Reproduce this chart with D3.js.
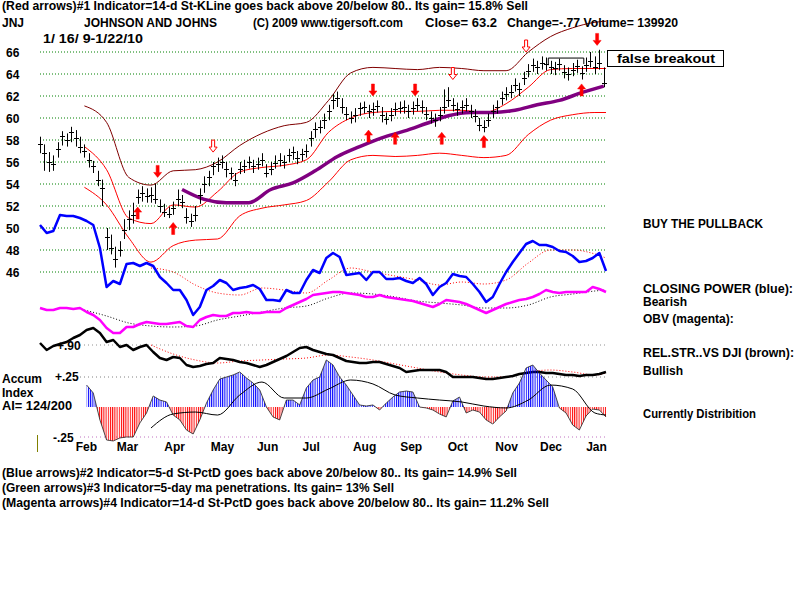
<!DOCTYPE html>
<html>
<head>
<meta charset="utf-8">
<script src="https://cdn.jsdelivr.net/npm/d3@7/dist/d3.min.js"></script>
<style>
  body { margin: 0; background: #fff; }
  svg { display: block; }
  text { font-family: "Liberation Sans", Arial, sans-serif; font-weight: bold; font-size: 12px; fill: #000; }
</style>
</head>
<body>
<svg id="chart" width="800" height="600"></svg>
<script>
// ---- data (1/16/09 - 1/22/10) ----
const BAR_STEP = 2;   // one price bar every 2 trading days
const IND_STEP = 3;   // indicator samples every 3 trading days

const priceTicks = [46, 48, 50, 52, 54, 56, 58, 60, 62, 64, 66];
const monthLabels = ["Feb", "Mar", "Apr", "May", "Jun", "Jul", "Aug", "Sep", "Oct", "Nov", "Dec", "Jan"];
const monthDays = [20.7, 39.2, 60.4, 82, 102.3, 122, 146, 167, 188, 210, 230, 250.5];

const closes = [
  57.6,56.8,56.0,55.8,57.2,58.4,58.0,58.7,58.2,57.4,
  57.0,56.2,55.6,54.4,53.6,49.2,48.2,47.2,48.0,49.8,
  50.8,51.2,52.8,53.2,52.9,53.0,52.6,52.0,51.5,51.3,
  51.8,52.6,52.4,51.0,50.6,51.2,53.0,54.0,54.6,55.6,
  55.8,56.0,55.4,55.0,54.4,55.4,55.6,56.0,55.6,55.8,
  56.2,55.0,55.4,55.9,56.2,56.0,56.6,56.9,56.4,56.7,
  57.0,58.2,59.0,59.2,59.8,60.6,61.6,61.8,61.0,60.4,
  60.0,60.3,60.9,61.0,60.6,60.8,61.1,60.3,59.9,60.3,
  60.8,60.9,61.0,60.6,60.9,61.2,61.0,60.4,60.0,59.8,
  60.3,61.0,61.6,61.2,60.8,61.0,61.2,60.6,60.2,59.4,
  59.2,59.8,60.6,61.0,61.8,62.2,62.4,63.0,62.6,63.6,
  64.3,64.8,64.6,65.0,64.9,64.6,64.5,64.9,64.2,64.0,
  64.4,64.7,64.1,64.8,65.2,64.6,65.0,63.2
];
const highs = [
  58.3,57.6,56.9,56.6,57.8,58.8,58.6,59.2,58.9,58.3,
  57.6,56.8,56.1,55.2,54.4,50.0,49.4,48.3,48.8,50.8,
  51.6,52.3,53.5,53.8,53.6,53.7,54.0,52.6,52.2,51.9,
  52.4,53.5,53.0,51.8,51.3,52.0,53.6,54.7,55.2,56.0,
  56.4,56.6,56.0,55.5,55.0,56.0,56.2,56.5,56.2,56.4,
  56.8,55.8,56.0,56.6,56.8,56.6,57.2,57.4,57.0,57.2,
  57.6,58.8,59.6,59.8,60.4,61.2,62.2,62.4,61.8,61.0,
  60.6,60.9,61.4,61.5,61.2,61.4,61.6,61.0,60.5,60.9,
  61.4,61.5,61.6,61.2,61.5,61.8,61.6,61.0,60.6,60.4,
  61.0,62.6,62.8,61.8,61.4,61.6,61.8,61.2,60.8,60.0,
  59.8,60.4,61.2,61.6,62.4,62.8,63.0,63.6,63.2,64.2,
  64.9,65.4,65.2,65.6,65.5,65.2,65.1,65.4,64.8,64.6,
  65.0,65.3,64.7,65.5,66.0,65.6,66.2,64.6
];
const lows = [
  56.8,55.2,55.1,55.2,56.4,57.5,57.4,57.8,57.4,56.8,
  56.4,55.5,55.0,53.8,52.0,48.0,47.6,46.4,47.4,49.0,
  49.8,50.4,52.2,52.4,52.3,52.3,52.2,51.4,51.0,50.9,
  51.2,52.0,51.8,50.4,50.1,50.6,52.2,53.2,53.8,54.8,
  55.1,55.4,54.6,54.4,53.8,54.9,55.0,55.4,55.0,55.3,
  55.6,54.6,54.8,55.4,55.6,55.4,56.0,56.2,55.8,56.1,
  56.4,57.4,58.2,58.6,59.0,59.8,60.8,61.0,60.4,59.8,
  59.5,59.6,60.2,60.4,60.0,60.2,60.5,59.6,59.4,59.7,
  60.2,60.4,60.4,60.0,60.3,60.6,60.4,59.8,59.5,59.2,
  59.7,60.4,61.0,60.6,60.2,60.4,60.6,60.0,59.6,58.8,
  58.7,59.2,60.0,60.4,61.2,61.6,61.8,62.4,62.0,63.0,
  63.7,64.2,64.0,64.4,64.3,64.0,63.9,64.3,63.6,63.4,
  63.8,64.1,63.5,64.2,64.6,64.0,64.4,62.8
];

// smooth series sampled on these trading days
const bandDays = [20,30,40,50,60,70,80,90,100,110,120,130,140,150,160,170,180,190,200,210,220,230,240,250,255];
const upperBand = [61.1,59.6,54.6,53.9,55.2,55.3,56.0,57.5,58.6,59.3,59.6,61.6,64.1,64.6,64.5,64.4,64.6,64.5,64.3,64.3,66.0,67.4,68.2,68.7,68.8];
const midBand   = [57.4,55.3,50.9,50.4,52.1,51.9,53.3,55.1,55.5,55.7,56.2,58.7,60.0,60.5,60.6,60.6,60.7,60.7,60.5,61.3,62.8,64.4,64.5,64.5,64.5];
const lowerBand = [53.7,52.1,49.1,46.9,48.4,48.9,49.0,51.1,51.8,52.1,52.5,54.2,56.2,56.6,56.5,56.6,56.8,56.6,56.4,56.6,58.5,59.8,60.3,60.5,60.5];

const maDays = [64,74,84,94,104,114,124,134,144,154,164,174,184,194,204,214,224,234,244,254];
const ma65 = [53.5,52.6,52.3,52.3,53.5,54.1,55.2,56.5,57.4,58.2,58.8,59.5,60.2,60.5,60.5,60.7,61.2,61.6,62.3,62.9];

const closingPower = [
  55,47,49,65,64,64,62,59,55,32,
  -7,-1,-4,16,17,14,17,14,3,-3,
  -10,-10,-20,-35,-27,-10,-6,0,-3,-10,
  -8,-7,-5,-9,-20,-20,-21,-10,-13,-13,
  0,10,7,22,27,23,5,6,7,0,
  8,8,1,1,2,-1,-3,2,-4,-15,
  -7,-3,6,4,3,-4,-12,-22,-17,-4,
  8,18,27,36,39,35,35,33,29,28,
  24,18,19,22,27,9
];
const cpMA = [null,null,null,12,8,-5,-13,-15,-8,-10,-13,0,12,8,4,0,-5,-2,-4,0,17,30,30,26,22];

const obv = [
  12,10,10,12,12,11,12,8,5,0,
  -8,-13,-13,-7,-7,-4,-2,-3,-4,-4,
  -3,-2,-6,-7,0,3,5,4,4,7,
  7,8,7,7,8,8,8,12,15,18,
  21,25,26,27,28,28,27,26,25,23,
  23,25,23,22,21,20,19,17,15,13,
  16,20,19,18,16,13,10,7,10,13,
  16,18,20,21,23,26,30,28,27,28,
  28,28,28,33,31,28
];
const obvMA = [10,4,-3,-6,-7,-6,0,4,8,12,14,22,27,26,23,19,17,15,12,12,15,23,26,29,30];

const relStr = [
  .910,.875,.895,.905,.915,.935,.950,.975,.985,.960,
  .915,.925,.890,.900,.875,.890,.900,.865,.835,.825,
  .840,.835,.800,.790,.795,.805,.810,.835,.830,.825,
  .815,.810,.800,.790,.800,.815,.830,.845,.865,.885,
  .890,.875,.865,.855,.850,.835,.820,.815,.810,.810,
  .815,.815,.805,.795,.785,.765,.770,.775,.775,.775,
  .775,.765,.740,.740,.740,.740,.735,.730,.730,.735,
  .740,.745,.755,.760,.765,.765,.760,.760,.755,.750,
  .750,.745,.750,.750,.755,.765
];
const relStrMA = [null,null,null,.900,.855,.825,.810,.820,.825,.830,.835,.850,.840,.825,.805,.785,.765,.750,.740,.740,.765,.775,.765,.750,.760];

const accumIndex = [
  null,null,null,null,null,null,null,0.183,0.117,-0.108,
  -0.275,-0.283,-0.258,-0.25,-0.25,-0.133,-0.05,0.092,0.058,0.042,
  -0.067,-0.108,-0.192,-0.225,-0.108,0.033,0.142,0.233,0.25,0.267,
  0.292,0.242,0.2,0.142,0,-0.083,-0.108,0.058,0.058,0.017,
  0.158,0.225,0.25,0.392,0.35,0.25,0.183,0.1,0.017,0.008,
  0.017,-0.025,0.033,0.083,0.125,0.133,0.125,0,-0.008,-0.025,
  -0.058,-0.083,0.05,0.083,-0.05,-0.025,-0.042,-0.108,-0.142,-0.083,
  -0.033,0.117,0.2,0.325,0.35,0.283,0.225,0.167,-0.008,-0.05,
  -0.15,-0.192,-0.075,-0.017,-0.025,-0.083
];
const accumMA = [null,null,null,-0.175,-0.058,-0.042,-0.067,0.1,0.208,0.075,0.075,0.15,0.225,0.192,0.1,0.075,0.058,0.042,0.008,-0.008,0.058,0.183,0.15,-0.05,-0.067];

// red arrows (#1 indicator)
const sellDays   = [53, 78, 150, 169, 186, 219, 251];
const sellPrices = [54.6, 56.9, 62.0, 62.0, 63.5, 66.0, 66.6];
const sellHollow = [false, true, false, false, true, true, false];
const buyDays    = [44, 60, 148, 160, 181, 200, 244];
const buyPrices  = [51.9, 50.5, 58.9, 58.7, 58.7, 58.4, 63.1];

// resistance box drawn around the December top
const boxDays   = [229, 229, 245, 245];
const boxPrices = [64.8, 65.45, 65.45, 64.9];

const headerLines = [
  "(Red arrows)#1 Indicator=14-d St-KLine goes back above 20/below 80.. Its gain= 15.8% Sell"
];
const footerLines = [
  "(Blue arrows)#2 Indicator=5-d St-PctD goes back above 20/below 80.. Its gain= 14.9% Sell",
  "(Green arrows)#3 Indicator=5-day ma penetrations. Its gain= 13% Sell",
  "(Magenta arrows)#4 Indicator=14-d St-PctD goes back above 20/below 80.. Its gain= 11.2% Sell"
];

// ---- scales ----
const svg = d3.select("#chart");
const x = d3.scaleLinear().domain([0, 255]).range([40, 606]);
const yP = d3.scaleLinear().domain([46, 66]).range([272, 52]);
const yCP = d3.scaleLinear().domain([-50, 50]).range([330, 230]);
const yOBV = d3.scaleLinear().domain([-20, 20]).range([340, 300]);
const yRS = d3.scaleLinear().domain([0.7, 1.0]).range([385, 325]);
const yAI = d3.scaleLinear().domain([-0.25, 0.25]).range([437, 377]);

const defs = svg.append("defs");

// ---- grid ----
svg.append("g").selectAll("line").data(priceTicks).join("line")
  .attr("x1", 40).attr("x2", 607)
  .attr("y1", d => yP(d)).attr("y2", d => yP(d))
  .attr("stroke", "#008000").attr("stroke-dasharray", "1,2");

svg.append("g").selectAll("text").data(priceTicks).join("text")
  .attr("x", 6).attr("y", d => yP(d) + 5)
  .text(d => d);

const refLines = [
  { y: yRS(0.9), c: "#909090" },
  { y: yAI(0.25), c: "#808080" },
  { y: yAI(-0.25), c: "#c070c0" }
];
svg.append("g").selectAll("line").data(refLines).join("line")
  .attr("x1", 80).attr("x2", 607)
  .attr("y1", d => d.y).attr("y2", d => d.y)
  .attr("stroke", d => d.c).attr("stroke-dasharray", "1,3");

// ---- helper for lines ----
function series(days, vals) {
  return vals.map((v, i) => ({ d: days[i], v }));
}
function plot(data, yScale, color, width, dash, curve) {
  const line = d3.line()
    .defined(p => p.v != null)
    .x(p => x(p.d)).y(p => yScale(p.v))
    .curve(curve || d3.curveLinear);
  const path = svg.append("path").datum(data)
    .attr("d", line).attr("fill", "none")
    .attr("stroke", color).attr("stroke-width", width)
    .attr("stroke-linejoin", "round");
  if (dash) path.attr("stroke-dasharray", dash);
  return path;
}

const indDays = closingPower.map((_, i) => i * IND_STEP);

// ---- bands and moving average ----
plot(series(bandDays, upperBand), yP, "#800000", 1, null, d3.curveMonotoneX);
plot(series(bandDays, midBand), yP, "#ff0000", 1, null, d3.curveMonotoneX);
plot(series(bandDays, lowerBand), yP, "#ff0000", 1, null, d3.curveMonotoneX);
plot(series(maDays, ma65), yP, "#800080", 3.5, null, d3.curveMonotoneX);

// ---- price bars ----
const bars = closes.map((c, i) => ({ d: i * BAR_STEP, c, h: highs[i], l: lows[i] }));
const gBars = svg.append("g").attr("stroke", "#000").attr("stroke-width", 1);
gBars.selectAll("line.hl").data(bars).join("line").attr("class", "hl")
  .attr("x1", b => Math.round(x(b.d)) + 0.5).attr("x2", b => Math.round(x(b.d)) + 0.5)
  .attr("y1", b => yP(b.h)).attr("y2", b => yP(b.l));
gBars.selectAll("line.cl").data(bars).join("line").attr("class", "cl")
  .attr("x1", b => Math.round(x(b.d)) - 2).attr("x2", b => Math.round(x(b.d)) + 3)
  .attr("y1", b => Math.round(yP(b.c)) + 0.5).attr("y2", b => Math.round(yP(b.c)) + 0.5);

// resistance box
plot(series(boxDays, boxPrices), yP, "#000", 1);

// ---- arrows ----
function downArrow(cx, tip) {
  return `M${cx - 1.5},${tip - 12} L${cx + 1.5},${tip - 12} L${cx + 1.5},${tip - 5} L${cx + 4},${tip - 5} L${cx},${tip} L${cx - 4},${tip - 5} L${cx - 1.5},${tip - 5} Z`;
}
function upArrow(cx, tip) {
  return `M${cx - 1.5},${tip + 12} L${cx + 1.5},${tip + 12} L${cx + 1.5},${tip + 5} L${cx + 4},${tip + 5} L${cx},${tip} L${cx - 4},${tip + 5} L${cx - 1.5},${tip + 5} Z`;
}
const sells = sellDays.map((d, i) => ({ d, p: sellPrices[i], hollow: sellHollow[i] }));
svg.append("g").selectAll("path").data(sells).join("path")
  .attr("d", s => downArrow(x(s.d), yP(s.p)))
  .attr("fill", s => s.hollow ? "#fff" : "#ff0000")
  .attr("stroke", "#ff0000").attr("stroke-width", s => s.hollow ? 1 : 0.5);
const buys = buyDays.map((d, i) => ({ d, p: buyPrices[i] }));
svg.append("g").selectAll("path").data(buys).join("path")
  .attr("d", s => upArrow(x(s.d), yP(s.p)))
  .attr("fill", "#ff0000").attr("stroke", "#ff0000").attr("stroke-width", 0.5);

// ---- closing power, OBV, relative strength ----
plot(series(bandDays, cpMA), yCP, "#ff0000", 1, "1,2", d3.curveMonotoneX);
plot(series(indDays, closingPower), yCP, "#0000ff", 2.5);
plot(series(bandDays, obvMA), yOBV, "#000", 1, "1,2", d3.curveMonotoneX);
plot(series(indDays, obv), yOBV, "#ff00ff", 2.5);
plot(series(bandDays, relStrMA), yRS, "#ff0000", 1, "1,2", d3.curveMonotoneX);
plot(series(indDays, relStr), yRS, "#000", 2.5);

// ---- accumulation index histogram ----
function hatch(id, color) {
  const p = defs.append("pattern").attr("id", id)
    .attr("patternUnits", "userSpaceOnUse").attr("width", 2.2).attr("height", 6);
  p.append("line").attr("x1", 0.5).attr("x2", 0.5).attr("y1", 0).attr("y2", 6)
    .attr("stroke", color).attr("stroke-width", 1);
}
hatch("aiBlue", "#0000ff");
hatch("aiRed", "#ff0000");
defs.append("clipPath").attr("id", "aboveZero").append("rect")
  .attr("x", 0).attr("y", 300).attr("width", 800).attr("height", yAI(0) - 300);
defs.append("clipPath").attr("id", "belowZero").append("rect")
  .attr("x", 0).attr("y", yAI(0)).attr("width", 800).attr("height", 80);

const aiData = series(indDays, accumIndex);
const aiArea = d3.area().defined(p => p.v != null)
  .x(p => x(p.d)).y0(yAI(0)).y1(p => yAI(p.v));
svg.append("path").datum(aiData).attr("d", aiArea)
  .attr("fill", "url(#aiBlue)").attr("clip-path", "url(#aboveZero)");
svg.append("path").datum(aiData).attr("d", aiArea)
  .attr("fill", "url(#aiRed)").attr("clip-path", "url(#belowZero)");
plot(aiData, yAI, "#222", 0.8);
plot(series(bandDays, accumMA), yAI, "#000", 1, null, d3.curveMonotoneX);

svg.append("line").attr("x1", 37.5).attr("x2", 37.5).attr("y1", 435).attr("y2", 452)
  .attr("stroke", "#808000").attr("stroke-width", 1);

// ---- month axis ----
const axis = d3.axisBottom(x).tickValues(monthDays)
  .tickFormat((d, i) => monthLabels[i]).tickSize(0).tickPadding(3);
const gAxis = svg.append("g").attr("transform", "translate(0,439)").call(axis);
gAxis.select(".domain").remove();
gAxis.selectAll("text").attr("font-family", null).attr("font-size", null).attr("fill", "#000");

// ---- texts ----
function label(str, px, py, len, size) {
  const t = svg.append("text").attr("x", px).attr("y", py).text(str);
  if (len) t.attr("textLength", len).attr("lengthAdjust", "spacingAndGlyphs");
  if (size) t.style("font-size", size + "px");
  return t;
}
label(headerLines[0], 2, 10, 526);
label("JNJ", 2, 27);
label("JOHNSON AND JOHNS", 84, 27, 133);
label("(C) 2009 www.tigersoft.com", 253, 27, 150);
label("Close=  63.2", 425, 27, 72);
label("Change=-.77 Volume= 139920", 507, 27, 171);
label("1/ 16/ 9-1/22/10", 43, 43, 100);

svg.append("rect").attr("x", 607.5).attr("y", 50.5).attr("width", 116).attr("height", 16)
  .attr("fill", "#fff").attr("stroke", "#000");
label("false breakout", 617, 63, 98, 13);

label("BUY THE PULLBACK", 643, 228, 120);
label("CLOSING POWER (blue):", 643, 293, 150);
label("Bearish", 643, 306);
label("OBV (magenta):", 643, 323);
label("REL.STR..VS DJI (brown):", 643, 357, 151);
label("Bullish", 643, 375);
label("Currently Distribition", 643, 418, 113);

label("+.90", 57, 350);
label("Accum", 2, 383);
label("Index", 2, 397);
label("AI= 124/200", 2, 410, 70);
label("+.25", 55, 381);
label("-.25", 53, 442);

footerLines.forEach((s, i) => label(s, 2, 477 + i * 15, [515, 392, 547][i]));
</script>
</body>
</html>
